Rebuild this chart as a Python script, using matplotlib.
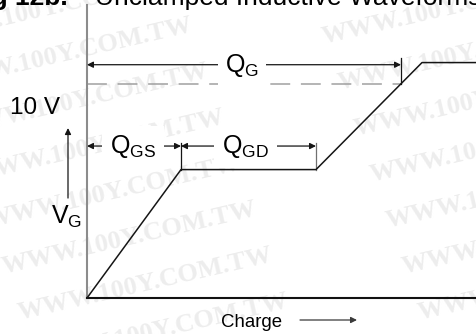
import matplotlib
matplotlib.use('Agg')
import matplotlib.pyplot as plt
from matplotlib.transforms import offset_copy

plt.rcParams['font.family'] = ['Liberation Sans', 'DejaVu Sans']
plt.rcParams['mathtext.fontset'] = 'custom'
plt.rcParams['mathtext.rm'] = 'Liberation Sans'

# gate charge waveform (charge in nC-like units, gate voltage in V)
charge = [0, 9.4, 22.9, 33.5, 38.9]
vg = [0, 6.0, 6.0, 11.0, 11.0]
q_gs = 9.4
q_gd = 13.5
q_g = 31.4
v_ref = 10.0
v_plateau = 6.0

W, H = 476, 334
fig = plt.figure(figsize=(W / 100, H / 100), dpi=100)
ax = fig.add_axes([87 / W, 36 / H, 389 / W, 293 / H])
ax.set_facecolor('none')
ax.set_xlim(0, 38.9)
ax.set_ylim(0, 13.69)
ax.set_xticks([])
ax.set_yticks([])
for s in ['top', 'right']:
    ax.spines[s].set_visible(False)
ax.spines['left'].set_color('#8c8c8c')
ax.spines['left'].set_linewidth(1.5)
ax.spines['bottom'].set_color('#111111')
ax.spines['bottom'].set_linewidth(1.5)

# watermark
for k in range(-6, 5):
    for j in range(-1, 2):
        xs = 20 + 16 * k + 400 * j
        ys = 320 + 46 * k
        fig.text(xs / W, 1 - ys / H, 'WWW.100Y.COM.TW', family='Liberation Serif',
                 weight='bold', fontsize=19, color='#ededed', rotation=13,
                 rotation_mode='anchor', ha='left', va='baseline', zorder=-1)

# waveform
ax.plot(charge, vg, color='#151515', lw=1.1, clip_on=False, zorder=3)
ax.plot([0, q_g], [v_ref, v_ref], color='#a0a0a0', lw=1.1, dashes=(13, 7))

arrow = dict(arrowstyle='<|-|>', color='#151515', lw=0.9, shrinkA=0, shrinkB=0,
             mutation_scale=9)
box = dict(boxstyle='square,pad=0.3', fc='white', ec='none')

# Q_G
y_qg = 10.9
ax.annotate('', xy=(0, y_qg), xytext=(q_g, y_qg), arrowprops=arrow, annotation_clip=False)
ax.plot([q_g, q_g], [v_ref, 11.2], color='#151515', lw=0.9)
ax.annotate(r'$\mathregular{Q_G}$', xy=(q_g / 2 - 0.2, y_qg), xytext=(0, -7),
            textcoords='offset pixels', ha='center', va='baseline', fontsize=18,
            bbox=box, zorder=4)

# Q_GS, Q_GD
y_qgs = 7.1
q_end = q_gs + q_gd
ax.annotate('', xy=(0, y_qgs), xytext=(q_gs, y_qgs), arrowprops=arrow, annotation_clip=False)
ax.annotate('', xy=(q_gs, y_qgs), xytext=(q_end, y_qgs), arrowprops=arrow)
ax.plot([q_gs, q_gs], [v_plateau, 7.25], color='#151515', lw=0.9)
ax.plot([q_end, q_end], [v_plateau, 7.25], color='#707070', lw=0.9)
ax.annotate(r'$\mathregular{Q_{GS}}$', xy=(q_gs / 2 - 0.1, y_qgs), xytext=(0, -7),
            textcoords='offset pixels', ha='center', va='baseline', fontsize=18,
            bbox=box, zorder=4)
ax.annotate(r'$\mathregular{Q_{GD}}$', xy=(q_gs + q_gd / 2 - 0.3, y_qgs), xytext=(0, -7),
            textcoords='offset pixels', ha='center', va='baseline', fontsize=18,
            bbox=box, zorder=4)

# y side labels
ax.annotate('10 V', xy=(0, v_ref), xytext=(-27, -30), textcoords='offset pixels',
            ha='right', va='baseline', fontsize=17.5, annotation_clip=False)
ax.annotate(r'$\mathregular{V_G}$', xy=(0, 0), xytext=(-5, 74), textcoords='offset pixels',
            ha='right', va='baseline', fontsize=18, annotation_clip=False)
tleft = offset_copy(ax.transData, fig=fig, x=-19, y=0, units='dots')
ax.annotate('', xy=(0, 7.94), xycoords=tleft, xytext=(0, 4.67), textcoords=tleft,
            arrowprops=dict(arrowstyle='-|>', color='#151515', lw=0.9, shrinkA=0,
                            shrinkB=0, mutation_scale=9), annotation_clip=False)

# x label
ax.annotate('Charge', xy=(16.5, 0), xytext=(0, -29), textcoords='offset pixels',
            ha='center', va='baseline', fontsize=13.4, annotation_clip=False)
tbelow = offset_copy(ax.transData, fig=fig, x=0, y=-22, units='dots')
ax.annotate('', xy=(27.0, 0), xycoords=tbelow, xytext=(21.3, 0), textcoords=tbelow,
            arrowprops=dict(arrowstyle='-|>', color='#3a3a3a', lw=0.9, shrinkA=0,
                            shrinkB=0, mutation_scale=9), annotation_clip=False)

# clipped title
fig.text(68 / W, 1 - 5 / H, 'Fig 12b.', weight='bold', fontsize=19,
         ha='right', va='baseline')
fig.text(95 / W, 1 - 5 / H, 'Unclamped Inductive Waveforms', fontsize=19,
         ha='left', va='baseline')

fig.savefig('out.png', dpi=100)
